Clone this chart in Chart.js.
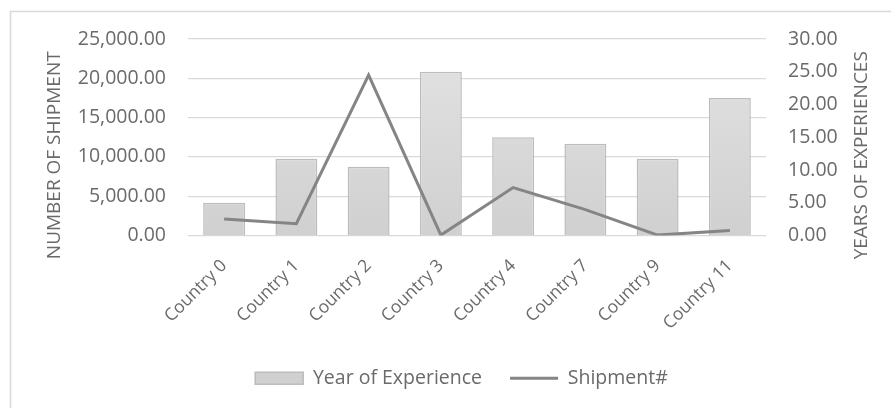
<!DOCTYPE html>
<html>
<head>
<meta charset="utf-8">
<script src="https://cdn.jsdelivr.net/npm/chart.js@4/dist/chart.umd.min.js"></script>
<style>
    html, body { margin: 0; padding: 0; background: #fff; }
    #wrap { width: 891px; height: 408px; position: relative; }
</style>
</head>
<body>
<div id="wrap"><canvas id="chart-shipment"></canvas></div>
<script>
const countries = ["Country 0", "Country 1", "Country 2", "Country 3", "Country 4", "Country 7", "Country 9", "Country 11"];
const yearsOfExperience = [5, 11.7, 10.5, 25, 15, 14, 11.7, 21];
const shipments = [2100, 1500, 20400, 50, 6100, 3300, 50, 650];
const leftTicks = [0, 5000, 10000, 15000, 20000, 25000];
const rightTicks = [0, 5, 10, 15, 20, 25, 30];

const textColor = "#6a6a6a";
const gridColor = "#d9d9d9";
const font = "'Open Sans', sans-serif";

// frame + rotated axis titles (both read bottom-to-top like excel)
const framePlugin = {
    id: "framePlugin",
    beforeDraw: (chart) => {
        const ctx = chart.ctx;
        ctx.save();
        ctx.strokeStyle = gridColor;
        ctx.lineWidth = 1.5;
        ctx.beginPath();
        ctx.moveTo(10.5, chart.height + 5);
        ctx.lineTo(10.5, 11.5);
        ctx.lineTo(chart.width + 5, 11.5);
        ctx.stroke();
        ctx.restore();
    },
    afterDraw: (chart) => {
        const ctx = chart.ctx;
        const area = chart.chartArea;
        const midY = (area.top + area.bottom) / 2 + 18;
        const drawTitle = (text, x) => {
            ctx.save();
            ctx.translate(x, midY);
            ctx.rotate(-Math.PI / 2);
            ctx.font = "19px " + font;
            ctx.fillStyle = textColor;
            ctx.textAlign = "center";
            ctx.textBaseline = "middle";
            ctx.fillText(text, 0, 0);
            ctx.restore();
        };
        drawTitle("NUMBER OF SHIPMENT", area.left - 133);
        drawTitle("YEARS OF EXPERIENCES", area.right + 96);
    },
};

const barFill = (context) => {
    const area = context.chart.chartArea;
    if (!area) return "#d9d9d9";
    const g = context.chart.ctx.createLinearGradient(0, area.top, 0, area.bottom);
    g.addColorStop(0, "#e3e3e3");
    g.addColorStop(1, "#d0d0d0");
    return g;
};

const chartShipment = new Chart(document.getElementById("chart-shipment"), {
    type: "bar",
    data: {
        labels: countries,
        datasets: [
            {
                label: "Year of Experience",
                data: yearsOfExperience,
                yAxisID: "yRight",
                backgroundColor: barFill,
                borderColor: "#bcbcbc",
                borderWidth: 1.5,
                categoryPercentage: 1,
                barPercentage: 0.58,
                pointStyle: "rect",
                order: 2,
            },
            {
                type: "line",
                label: "Shipment#",
                data: shipments,
                yAxisID: "y",
                borderColor: "#858585",
                backgroundColor: "#858585",
                borderWidth: 3,
                pointRadius: 0,
                pointStyle: "line",
                tension: 0,
                order: 1,
            },
        ],
    },
    options: {
        responsive: true,
        maintainAspectRatio: false,
        animation: false,
        layout: {
            padding: { left: 32, top: 39, right: 0, bottom: 10 },
        },
        plugins: {
            tooltip: { enabled: false },
            legend: {
                position: "bottom",
                labels: {
                    usePointStyle: true,
                    pointStyleWidth: 48,
                    boxHeight: 12,
                    padding: 28,
                    color: textColor,
                    font: { family: font, size: 19.5 },
                    sort: (a, b) => a.datasetIndex - b.datasetIndex,
                },
            },
        },
        scales: {
            x: {
                grid: { display: false },
                border: { display: false },
                ticks: {
                    color: textColor,
                    font: { family: font, size: 17.5 },
                    minRotation: 45,
                    maxRotation: 45,
                    padding: 12,
                },
                afterFit: (scale) => {
                    scale.height = 105;
                },
            },
            y: {
                position: "left",
                min: 0,
                max: 25000,
                afterBuildTicks: (scale) => {
                    scale.ticks = leftTicks.map((v) => ({ value: v }));
                },
                grid: { color: gridColor, lineWidth: 1.3, drawTicks: false },
                border: { display: false },
                ticks: {
                    color: textColor,
                    font: { family: font, size: 19.5 },
                    padding: 22,
                    callback: (v) => v.toLocaleString("en-US", { minimumFractionDigits: 2, maximumFractionDigits: 2 }),
                },
                afterFit: (scale) => {
                    scale.width = 156;
                },
            },
            yRight: {
                position: "right",
                min: 0,
                max: 30,
                afterBuildTicks: (scale) => {
                    scale.ticks = rightTicks.map((v) => ({ value: v }));
                },
                grid: { display: false, drawTicks: false },
                border: { display: false },
                ticks: {
                    color: textColor,
                    font: { family: font, size: 19.5 },
                    padding: 22,
                    callback: (v) => v.toFixed(2),
                },
                afterFit: (scale) => {
                    scale.width = 125;
                },
            },
        },
    },
    plugins: [framePlugin],
});
</script>
</body>
</html>
